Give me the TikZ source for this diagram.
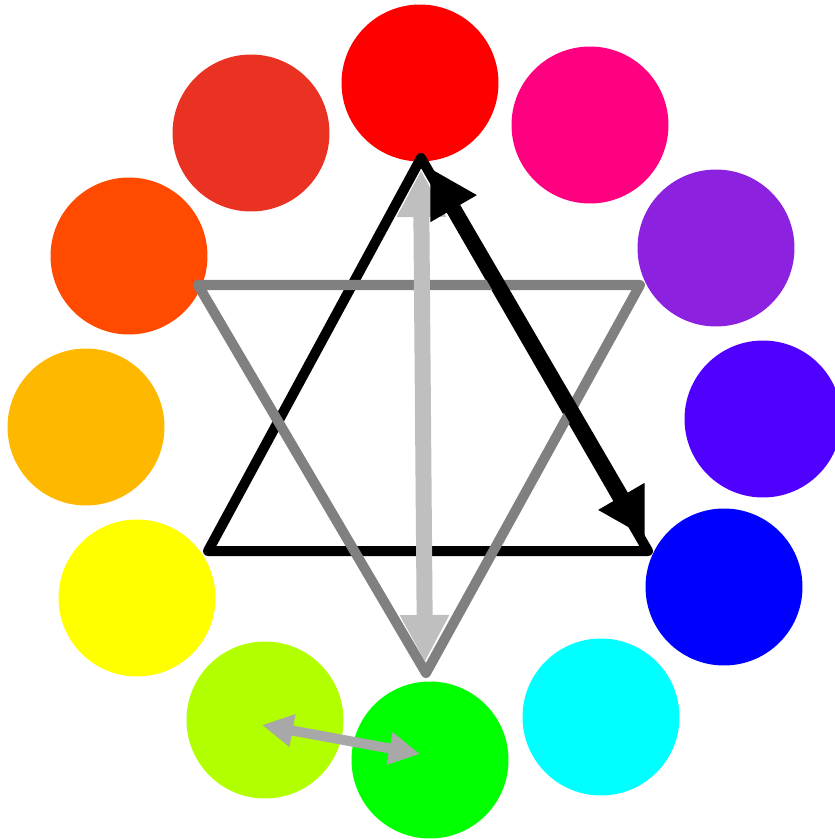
\documentclass[tikz,border=0pt]{standalone}
\usepackage{tikz}
\usetikzlibrary{arrows.meta}
\definecolor{cwred}{HTML}{FF0000}
\definecolor{cwrose}{HTML}{FF0080}
\definecolor{cwpurple}{HTML}{8C21E0}
\definecolor{cwviolet}{HTML}{5000FF}
\definecolor{cwblue}{HTML}{0000FF}
\definecolor{cwcyan}{HTML}{00FFFF}
\definecolor{cwgreen}{HTML}{00FF00}
\definecolor{cwlime}{HTML}{B2FF00}
\definecolor{cwyellow}{HTML}{FFFF00}
\definecolor{cwamber}{HTML}{FFB800}
\definecolor{cworange}{HTML}{FF4A00}
\definecolor{cwvermilion}{HTML}{EA3223}

\begin{document}
\begin{tikzpicture}[x=0.02cm, y=-0.02cm,
      hue/.style={circle, minimum size=3.14cm, inner sep=0pt},
      tri/.style={line width=5.7pt, line join=round, line cap=round},
      bigarr/.style={{Triangle[length=0.94cm, width=1.0cm]}-{Triangle[length=0.94cm, width=1.0cm]}, line width=8.5pt, black},
      midarr/.style={{Triangle[length=0.94cm, width=0.92cm]}-{Triangle[length=0.94cm, width=0.92cm]}, line width=9.1pt, cwsilver},
      smallarr/.style={{Triangle[length=0.62cm, width=0.62cm]}-{Triangle[length=0.62cm, width=0.62cm]}, line width=5.7pt, cwgray}
    ]
      \colorlet{cwsilver}{black!25}
      \colorlet{cwgray}{black!34}
      \useasboundingbox (0,0) rectangle (835,839);

      % colour wheel
      \node[hue, fill=cwred] (red) at (420,83) {};
      \node[hue, fill=cwrose] (rose) at (590,125) {};
      \node[hue, fill=cwpurple] (purple) at (716,248) {};
      \node[hue, fill=cwviolet] (violet) at (763,419) {};
      \node[hue, fill=cwblue] (blue) at (724,587) {};
      \node[hue, fill=cwcyan] (cyan) at (601,717) {};
      \node[hue, fill=cwgreen] (green) at (430,760) {};
      \node[hue, fill=cwlime] (lime) at (265,720) {};
      \node[hue, fill=cwyellow] (yellow) at (137,598) {};
      \node[hue, fill=cwamber] (amber) at (86,427) {};
      \node[hue, fill=cworange] (orange) at (129,256) {};
      \node[hue, fill=cwvermilion] (vermilion) at (251,133) {};

      % triangles
      \coordinate (t1) at (421,158);
      \coordinate (t2) at (208,551);
      \coordinate (t3) at (648,551);
      \coordinate (g1) at (198,285);
      \coordinate (g2) at (640,285);
      \coordinate (g3) at (426,673);
      \draw[tri, black] (t1) -- (t2) -- (t3) -- cycle;
      \draw[tri, black!50] (g1) -- (g2) -- (g3) -- cycle;

      % arrows
      \coordinate (a1) at (421,170);
      \coordinate (a2) at (425,662);
      \coordinate (b1) at (430,168);
      \coordinate (b2) at (645,537);
      \coordinate (c1) at (262,725);
      \coordinate (c2) at (420,754);
      \draw[midarr] (a1) -- (a2);
      \draw[bigarr] (b1) -- (b2);
      \draw[smallarr] (c1) -- (c2);
    \end{tikzpicture}
\end{document}
